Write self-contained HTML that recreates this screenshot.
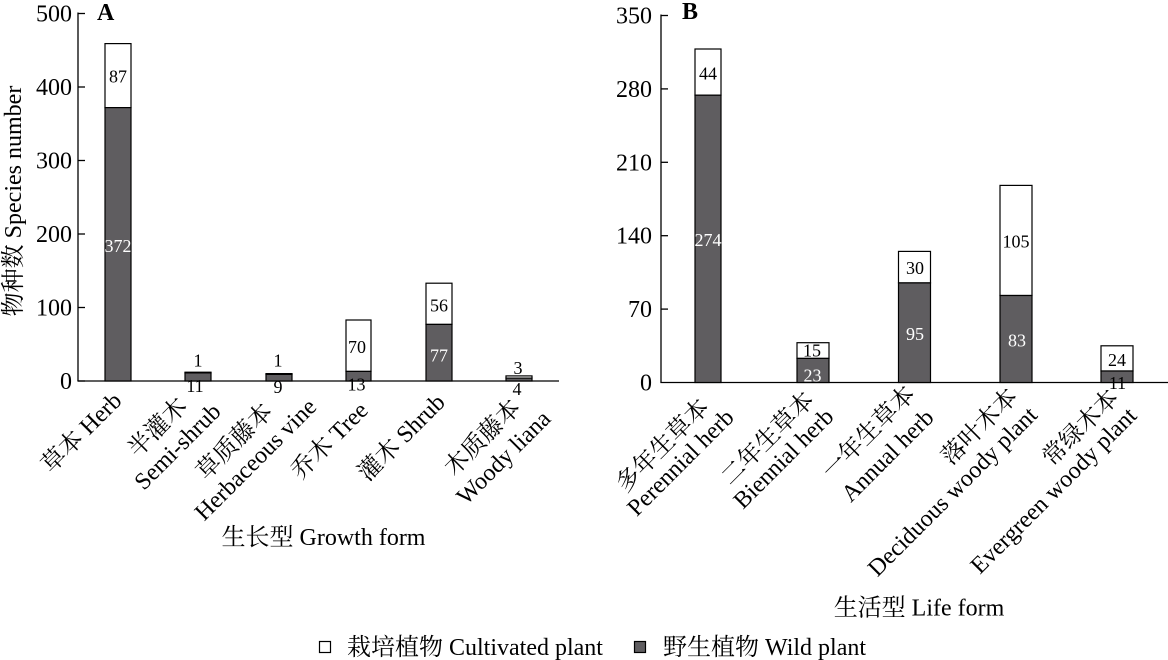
<!DOCTYPE html>
<html>
<head>
<meta charset="utf-8">
<style>
  html,body{margin:0;padding:0;background:#fff;}
  svg{display:block;}
  text{font-family:"Liberation Serif","Noto Serif CJK SC",serif;fill:#000;}
  .tk{font-size:24px;}
  .lb{font-size:24px;}
  .v{font-size:18px;text-anchor:middle;}
  .w{fill:#fff;}
</style>
</head>
<body>
<svg width="1168" height="660" viewBox="0 0 1168 660" xmlns="http://www.w3.org/2000/svg">
  <!-- ================= Panel A ================= -->
  <g stroke="#000" stroke-width="1.3" fill="none">
    <line x1="78" y1="12.5" x2="78" y2="381"/>
    <line x1="77.4" y1="381" x2="559" y2="381"/>
    <line x1="78" y1="381" x2="85" y2="381"/>
    <line x1="78" y1="307.5" x2="85" y2="307.5"/>
    <line x1="78" y1="234" x2="85" y2="234"/>
    <line x1="78" y1="160.5" x2="85" y2="160.5"/>
    <line x1="78" y1="87" x2="85" y2="87"/>
    <line x1="78" y1="13.5" x2="85" y2="13.5"/>
  </g>
  <g class="tk" text-anchor="end">
    <text x="72" y="389">0</text>
    <text x="72" y="315.5">100</text>
    <text x="72" y="242">200</text>
    <text x="72" y="168.5">300</text>
    <text x="72" y="95">400</text>
    <text x="72" y="21.5">500</text>
  </g>
  <text x="97" y="20" style="font-size:24px;font-weight:bold;">A</text>
  <text class="lb" text-anchor="middle" transform="translate(21,201) rotate(-90)">物种数 Species number</text>

  <!-- bars A -->
  <g stroke="#000" stroke-width="1.2">
    <!-- Herb -->
    <rect x="105" y="43.6" width="26" height="64" fill="#fff"/>
    <rect x="105" y="107.6" width="26" height="273.4" fill="#5f5d60"/>
    <!-- Semi-shrub -->
    <rect x="185" y="372.2" width="26" height="0.7" fill="#fff"/>
    <rect x="185" y="372.9" width="26" height="8.1" fill="#5f5d60"/>
    <!-- Herbaceous vine -->
    <rect x="266" y="373.6" width="26" height="0.8" fill="#fff"/>
    <rect x="266" y="374.4" width="26" height="6.6" fill="#5f5d60"/>
    <!-- Tree -->
    <rect x="346" y="320" width="25" height="51.4" fill="#fff"/>
    <rect x="346" y="371.4" width="25" height="9.6" fill="#5f5d60"/>
    <!-- Shrub -->
    <rect x="426" y="283.2" width="26" height="41.2" fill="#fff"/>
    <rect x="426" y="324.4" width="26" height="56.6" fill="#5f5d60"/>
    <!-- Woody liana -->
    <rect x="506" y="375.9" width="26" height="2.2" fill="#fff"/>
    <rect x="506" y="378.1" width="26" height="2.9" fill="#5f5d60"/>
  </g>
  <g class="v">
    <text x="118" y="82.5">87</text>
    <text x="118" y="252" class="w">372</text>
    <text x="198" y="366.5">1</text>
    <text x="195" y="392">11</text>
    <text x="278" y="366.5">1</text>
    <text x="278" y="393">9</text>
    <text x="357" y="353">70</text>
    <text x="356.5" y="390.5">13</text>
    <text x="439" y="311.5">56</text>
    <text x="439" y="361.5" class="w">77</text>
    <text x="518" y="374">3</text>
    <text x="517" y="395">4</text>
  </g>
  <!-- x labels A -->
  <g class="lb" text-anchor="middle">
    <text x="87" y="438" transform="rotate(-45 87 438)">草本 Herb</text>
    <text x="163" y="433" transform="rotate(-45 163 433)">半灌木</text>
    <text x="183" y="452" transform="rotate(-45 183 452)">Semi-shrub</text>
    <text x="240" y="447" transform="rotate(-45 240 447)">草质藤本</text>
    <text x="261" y="465" transform="rotate(-45 261 465)">Herbaceous vine</text>
    <text x="335" y="446" transform="rotate(-45 335 446)">乔木 Tree</text>
    <text x="407" y="443" transform="rotate(-45 407 443)">灌木 Shrub</text>
    <text x="488" y="443" transform="rotate(-45 488 443)">木质藤本</text>
    <text x="509" y="463" transform="rotate(-45 509 463)">Woody liana</text>
  </g>
  <text class="lb" x="323.5" y="545" text-anchor="middle">生长型 Growth form</text>

  <!-- ================= Panel B ================= -->
  <g stroke="#000" stroke-width="1.3" fill="none">
    <line x1="661" y1="14.5" x2="661" y2="382.5"/>
    <line x1="660.4" y1="382.5" x2="1168" y2="382.5"/>
    <line x1="661" y1="309.1" x2="668" y2="309.1"/>
    <line x1="661" y1="235.7" x2="668" y2="235.7"/>
    <line x1="661" y1="162.3" x2="668" y2="162.3"/>
    <line x1="661" y1="88.9" x2="668" y2="88.9"/>
    <line x1="661" y1="15.5" x2="668" y2="15.5"/>
  </g>
  <g class="tk" text-anchor="end">
    <text x="652" y="390.5">0</text>
    <text x="652" y="317.1">70</text>
    <text x="652" y="243.7">140</text>
    <text x="652" y="170.3">210</text>
    <text x="652" y="96.9">280</text>
    <text x="652" y="23.5">350</text>
  </g>
  <text x="682" y="19" style="font-size:24px;font-weight:bold;">B</text>

  <g stroke="#000" stroke-width="1.2">
    <!-- Perennial -->
    <rect x="695" y="49" width="26" height="46.2" fill="#fff"/>
    <rect x="695" y="95.2" width="26" height="287.3" fill="#5f5d60"/>
    <!-- Biennial -->
    <rect x="797" y="342.7" width="32" height="15.7" fill="#fff"/>
    <rect x="797" y="358.4" width="32" height="24.1" fill="#5f5d60"/>
    <!-- Annual -->
    <rect x="898.5" y="251.4" width="32" height="31.5" fill="#fff"/>
    <rect x="898.5" y="282.9" width="32" height="99.6" fill="#5f5d60"/>
    <!-- Deciduous -->
    <rect x="1000" y="185.4" width="32" height="110.1" fill="#fff"/>
    <rect x="1000" y="295.5" width="32" height="87" fill="#5f5d60"/>
    <!-- Evergreen -->
    <rect x="1101" y="345.8" width="32" height="25.2" fill="#fff"/>
    <rect x="1101" y="371" width="32" height="11.5" fill="#5f5d60"/>
  </g>
  <g class="v">
    <text x="708" y="79.3">44</text>
    <text x="708" y="246" class="w">274</text>
    <text x="812" y="356.5">15</text>
    <text x="812.5" y="381.5" class="w">23</text>
    <text x="915" y="274">30</text>
    <text x="915" y="340" class="w">95</text>
    <text x="1016" y="247.5">105</text>
    <text x="1017" y="346.5" class="w">83</text>
    <text x="1117" y="366">24</text>
    <text x="1117.5" y="389">11</text>
  </g>
  <g class="lb" text-anchor="middle">
    <text x="668" y="451" transform="rotate(-45 668 451)">多年生草本</text>
    <text x="686" y="468" transform="rotate(-45 686 468)">Perennial herb</text>
    <text x="773" y="444" transform="rotate(-45 773 444)">二年生草本</text>
    <text x="789" y="464" transform="rotate(-45 789 464)">Biennial herb</text>
    <text x="874" y="438" transform="rotate(-45 874 438)">一年生草本</text>
    <text x="893" y="461" transform="rotate(-45 893 461)">Annual herb</text>
    <text x="985" y="432" transform="rotate(-45 985 432)">落叶木本</text>
    <text x="958" y="497" transform="rotate(-45 958 497)">Deciduous woody plant</text>
    <text x="1086" y="433" transform="rotate(-45 1086 433)">常绿木本</text>
    <text x="1059" y="496" transform="rotate(-45 1059 496)">Evergreen woody plant</text>
  </g>
  <text class="lb" x="919" y="615.5" text-anchor="middle">生活型 Life form</text>

  <!-- ================= Legend ================= -->
  <rect x="319.5" y="641.5" width="11" height="11" fill="#fff" stroke="#000" stroke-width="1.2"/>
  <text class="lb" x="347" y="655">栽培植物 Cultivated plant</text>
  <rect x="634.5" y="641.5" width="11" height="11" fill="#5f5d60" stroke="#000" stroke-width="1.2"/>
  <text class="lb" x="663" y="655">野生植物 Wild plant</text>
</svg>
</body>
</html>
